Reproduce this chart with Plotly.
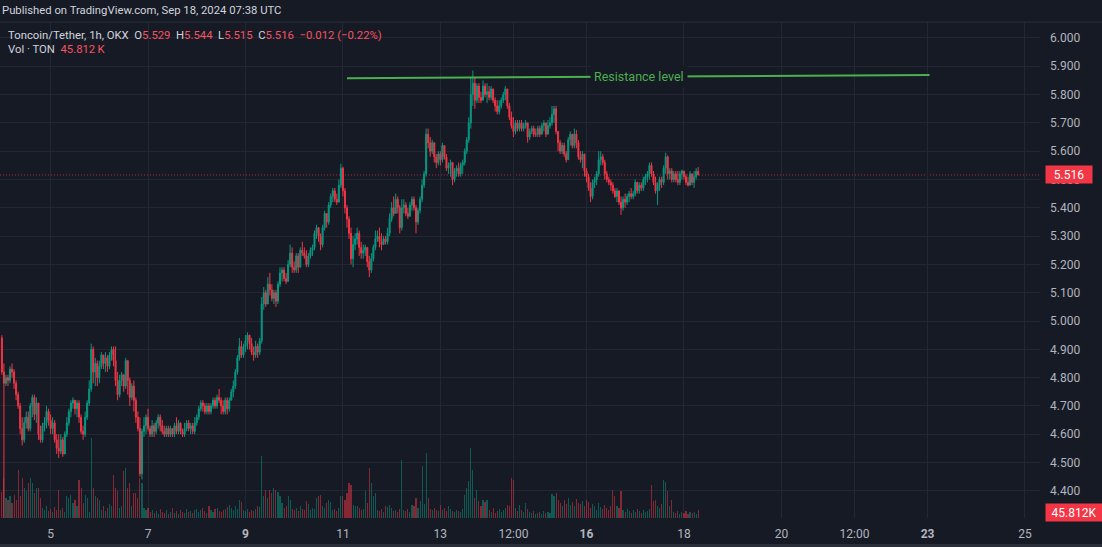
import pandas as pd
import plotly.graph_objects as go

# ---------------- data (hourly candles, Sep 4 00:00 -> Sep 18 07:00 UTC) ----------------
first_open = 4.94

close_px = (
    [4.82, 4.78, 4.80, 4.79, 4.83, 4.82, 4.78, 4.74, 4.70, 4.62, 4.58, 4.64, 4.66, 4.62, 4.70, 4.73, 4.67, 4.71, 4.60, 4.58, 4.63, 4.64, 4.68, 4.65]
    + [4.62, 4.64, 4.58, 4.55, 4.54, 4.58, 4.53, 4.60, 4.64, 4.68, 4.71, 4.72, 4.69, 4.71, 4.66, 4.61, 4.60, 4.66, 4.71, 4.76, 4.90, 4.82, 4.85, 4.80]
    + [4.84, 4.88, 4.85, 4.87, 4.84, 4.88, 4.90, 4.86, 4.79, 4.74, 4.79, 4.81, 4.77, 4.86, 4.79, 4.73, 4.77, 4.72, 4.66, 4.62, 4.46, 4.61, 4.63, 4.66]
    + [4.62, 4.60, 4.63, 4.61, 4.64, 4.66, 4.63, 4.61, 4.60, 4.62, 4.60, 4.62, 4.60, 4.63, 4.61, 4.64, 4.61, 4.60, 4.62, 4.64, 4.62, 4.63, 4.61, 4.64]
    + [4.66, 4.69, 4.71, 4.70, 4.68, 4.70, 4.68, 4.70, 4.72, 4.70, 4.73, 4.72, 4.70, 4.68, 4.72, 4.69, 4.72, 4.75, 4.77, 4.82, 4.87, 4.91, 4.88, 4.91]
    + [4.93, 4.95, 4.92, 4.89, 4.88, 4.91, 4.89, 4.93, 5.06, 5.10, 5.06, 5.13, 5.11, 5.08, 5.10, 5.07, 5.13, 5.17, 5.18, 5.15, 5.14, 5.20, 5.24, 5.19]
    + [5.18, 5.23, 5.19, 5.25, 5.24, 5.23, 5.20, 5.23, 5.25, 5.26, 5.31, 5.33, 5.30, 5.27, 5.33, 5.38, 5.35, 5.41, 5.44, 5.46, 5.43, 5.42, 5.48, 5.54]
    + [5.46, 5.40, 5.36, 5.31, 5.22, 5.27, 5.29, 5.31, 5.26, 5.24, 5.25, 5.26, 5.21, 5.18, 5.22, 5.26, 5.29, 5.30, 5.28, 5.27, 5.29, 5.28, 5.31, 5.36]
    + [5.40, 5.38, 5.43, 5.40, 5.33, 5.40, 5.41, 5.38, 5.37, 5.41, 5.43, 5.40, 5.35, 5.39, 5.43, 5.48, 5.52, 5.66, 5.63, 5.60, 5.63, 5.58, 5.56, 5.59]
    + [5.57, 5.62, 5.58, 5.54, 5.55, 5.56, 5.50, 5.53, 5.54, 5.52, 5.55, 5.56, 5.60, 5.64, 5.70, 5.80, 5.84, 5.78, 5.83, 5.79, 5.78, 5.83, 5.80, 5.81]
    + [5.79, 5.82, 5.78, 5.76, 5.74, 5.76, 5.78, 5.80, 5.82, 5.76, 5.72, 5.69, 5.67, 5.70, 5.68, 5.70, 5.68, 5.69, 5.70, 5.65, 5.67, 5.68, 5.66, 5.66]
    + [5.68, 5.66, 5.69, 5.70, 5.66, 5.69, 5.70, 5.73, 5.75, 5.67, 5.63, 5.60, 5.62, 5.59, 5.57, 5.64, 5.66, 5.62, 5.66, 5.63, 5.58, 5.57, 5.59, 5.53]
    + [5.51, 5.47, 5.44, 5.49, 5.50, 5.52, 5.57, 5.58, 5.56, 5.52, 5.50, 5.49, 5.48, 5.46, 5.44, 5.46, 5.42, 5.40, 5.43, 5.42, 5.44, 5.45, 5.44, 5.45]
    + [5.49, 5.46, 5.48, 5.47, 5.50, 5.51, 5.52, 5.55, 5.52, 5.49, 5.46, 5.48, 5.50, 5.49, 5.54, 5.58, 5.52, 5.53, 5.50, 5.52, 5.50, 5.49, 5.52, 5.53]
    + [5.51, 5.49, 5.48, 5.52, 5.49, 5.51, 5.529, 5.516]
)

high_px = (
    [4.95, 4.85, 4.81, 4.81, 4.84, 4.85, 4.83, 4.79, 4.75, 4.71, 4.66, 4.66, 4.68, 4.68, 4.71, 4.74, 4.74, 4.73, 4.71, 4.63, 4.64, 4.66, 4.70, 4.69]
    + [4.67, 4.66, 4.65, 4.60, 4.60, 4.60, 4.59, 4.61, 4.66, 4.69, 4.72, 4.73, 4.72, 4.72, 4.72, 4.67, 4.63, 4.68, 4.72, 4.79, 4.92, 4.91, 4.87, 4.86]
    + [4.86, 4.89, 4.88, 4.89, 4.88, 4.89, 4.91, 4.91, 4.91, 4.82, 4.81, 4.82, 4.81, 4.87, 4.86, 4.80, 4.78, 4.79, 4.73, 4.68, 4.66, 4.62, 4.66, 4.67]
    + [4.69, 4.63, 4.65, 4.64, 4.65, 4.67, 4.67, 4.65, 4.63, 4.63, 4.63, 4.63, 4.62, 4.64, 4.66, 4.65, 4.64, 4.62, 4.64, 4.65, 4.65, 4.64, 4.64, 4.66]
    + [4.67, 4.70, 4.72, 4.72, 4.71, 4.71, 4.71, 4.71, 4.73, 4.73, 4.74, 4.76, 4.73, 4.72, 4.73, 4.73, 4.73, 4.76, 4.79, 4.83, 4.88, 4.94, 4.93, 4.92]
    + [4.95, 4.96, 4.95, 4.94, 4.91, 4.93, 4.92, 4.94, 5.085, 5.12, 5.11, 5.155, 5.17, 5.13, 5.11, 5.11, 5.14, 5.19, 5.19, 5.19, 5.17, 5.215, 5.27, 5.26]
    + [5.21, 5.24, 5.24, 5.26, 5.28, 5.26, 5.25, 5.24, 5.26, 5.27, 5.32, 5.34, 5.33, 5.31, 5.34, 5.39, 5.38, 5.42, 5.45, 5.47, 5.47, 5.45, 5.50, 5.556]
    + [5.545, 5.47, 5.41, 5.37, 5.33, 5.30, 5.31, 5.33, 5.32, 5.28, 5.27, 5.27, 5.26, 5.23, 5.24, 5.27, 5.32, 5.32, 5.33, 5.31, 5.30, 5.30, 5.33, 5.38]
    + [5.42, 5.44, 5.45, 5.44, 5.41, 5.43, 5.43, 5.42, 5.40, 5.42, 5.44, 5.44, 5.41, 5.40, 5.44, 5.50, 5.53, 5.68, 5.68, 5.65, 5.64, 5.63, 5.59, 5.60]
    + [5.60, 5.63, 5.62, 5.59, 5.56, 5.57, 5.56, 5.54, 5.55, 5.56, 5.56, 5.57, 5.61, 5.65, 5.72, 5.86, 5.885, 5.86, 5.84, 5.84, 5.81, 5.85, 5.84, 5.84]
    + [5.83, 5.83, 5.82, 5.79, 5.78, 5.78, 5.79, 5.81, 5.83, 5.82, 5.77, 5.74, 5.72, 5.71, 5.71, 5.71, 5.71, 5.70, 5.71, 5.70, 5.68, 5.69, 5.69, 5.68]
    + [5.69, 5.69, 5.70, 5.71, 5.70, 5.71, 5.72, 5.76, 5.76, 5.76, 5.67, 5.64, 5.63, 5.63, 5.60, 5.65, 5.67, 5.66, 5.68, 5.675, 5.64, 5.60, 5.60, 5.59]
    + [5.54, 5.52, 5.49, 5.50, 5.51, 5.53, 5.60, 5.60, 5.59, 5.57, 5.53, 5.51, 5.50, 5.49, 5.47, 5.47, 5.46, 5.44, 5.44, 5.45, 5.45, 5.46, 5.47, 5.46]
    + [5.50, 5.49, 5.49, 5.49, 5.51, 5.52, 5.53, 5.56, 5.56, 5.53, 5.51, 5.49, 5.51, 5.51, 5.55, 5.595, 5.585, 5.54, 5.54, 5.53, 5.53, 5.53, 5.53, 5.535]
    + [5.53, 5.52, 5.51, 5.53, 5.52, 5.53, 5.54, 5.544]
)

low_px = (
    [4.81, 4.20, 4.77, 4.77, 4.78, 4.80, 4.76, 4.72, 4.69, 4.60, 4.56, 4.57, 4.62, 4.61, 4.61, 4.66, 4.65, 4.64, 4.58, 4.57, 4.57, 4.61, 4.62, 4.63]
    + [4.60, 4.60, 4.57, 4.53, 4.516, 4.53, 4.52, 4.53, 4.59, 4.63, 4.66, 4.69, 4.67, 4.66, 4.64, 4.60, 4.58, 4.59, 4.65, 4.70, 4.75, 4.78, 4.77, 4.77]
    + [4.78, 4.83, 4.83, 4.82, 4.82, 4.83, 4.86, 4.84, 4.77, 4.72, 4.73, 4.77, 4.75, 4.76, 4.74, 4.70, 4.72, 4.68, 4.64, 4.61, 4.45, 4.44, 4.59, 4.60]
    + [4.61, 4.59, 4.59, 4.59, 4.60, 4.62, 4.61, 4.60, 4.59, 4.59, 4.59, 4.59, 4.59, 4.59, 4.60, 4.60, 4.60, 4.59, 4.59, 4.61, 4.61, 4.60, 4.60, 4.60]
    + [4.63, 4.65, 4.68, 4.68, 4.67, 4.67, 4.67, 4.67, 4.69, 4.69, 4.69, 4.71, 4.67, 4.67, 4.67, 4.67, 4.68, 4.72, 4.73, 4.76, 4.81, 4.86, 4.87, 4.87]
    + [4.89, 4.90, 4.90, 4.88, 4.86, 4.87, 4.87, 4.88, 4.92, 5.04, 5.05, 5.06, 5.09, 5.07, 5.06, 5.05, 5.06, 5.12, 5.14, 5.14, 5.13, 5.14, 5.19, 5.17]
    + [5.17, 5.17, 5.17, 5.19, 5.23, 5.22, 5.19, 5.19, 5.22, 5.23, 5.25, 5.29, 5.28, 5.25, 5.26, 5.32, 5.33, 5.34, 5.40, 5.42, 5.42, 5.41, 5.42, 5.47]
    + [5.44, 5.38, 5.33, 5.29, 5.20, 5.19, 5.25, 5.27, 5.23, 5.22, 5.22, 5.23, 5.19, 5.155, 5.17, 5.21, 5.25, 5.28, 5.26, 5.25, 5.27, 5.27, 5.27, 5.30]
    + [5.35, 5.37, 5.38, 5.38, 5.31, 5.32, 5.38, 5.37, 5.36, 5.37, 5.39, 5.39, 5.31, 5.34, 5.38, 5.42, 5.47, 5.51, 5.61, 5.58, 5.59, 5.56, 5.54, 5.55]
    + [5.55, 5.56, 5.57, 5.53, 5.52, 5.51, 5.48, 5.49, 5.51, 5.51, 5.51, 5.52, 5.55, 5.59, 5.63, 5.68, 5.76, 5.75, 5.77, 5.77, 5.77, 5.78, 5.79, 5.77]
    + [5.78, 5.78, 5.77, 5.74, 5.73, 5.73, 5.75, 5.77, 5.78, 5.75, 5.71, 5.68, 5.65, 5.66, 5.67, 5.67, 5.67, 5.67, 5.68, 5.63, 5.64, 5.66, 5.65, 5.65]
    + [5.65, 5.65, 5.66, 5.67, 5.65, 5.66, 5.68, 5.69, 5.70, 5.66, 5.60, 5.59, 5.59, 5.58, 5.56, 5.57, 5.62, 5.61, 5.61, 5.61, 5.57, 5.56, 5.54, 5.51]
    + [5.49, 5.46, 5.42, 5.43, 5.47, 5.48, 5.51, 5.55, 5.55, 5.50, 5.49, 5.48, 5.46, 5.45, 5.435, 5.42, 5.41, 5.375, 5.39, 5.40, 5.41, 5.42, 5.43, 5.43]
    + [5.44, 5.45, 5.45, 5.46, 5.46, 5.48, 5.49, 5.50, 5.51, 5.48, 5.45, 5.41, 5.46, 5.47, 5.48, 5.52, 5.50, 5.50, 5.49, 5.49, 5.49, 5.48, 5.48, 5.50]
    + [5.50, 5.48, 5.475, 5.48, 5.48, 5.47, 5.50, 5.515]
)

# volume in thousands of TON
volume_k = (
    [150, 228, 114, 103, 125, 86, 131, 103, 274, 125, 228, 171, 154, 200, 228, 200, 143, 171, 171, 114, 57, 46, 68, 40]
    + [51, 34, 63, 46, 160, 46, 57, 34, 125, 114, 131, 86, 103, 68, 217, 171, 86, 131, 114, 34, 456, 171, 125, 114]
    + [103, 46, 68, 40, 57, 80, 68, 245, 171, 154, 57, 68, 268, 285, 171, 200, 68, 143, 143, 114, 228, 200, 57, 46]
    + [57, 34, 46, 29, 40, 23, 51, 34, 29, 46, 23, 34, 57, 29, 40, 23, 46, 34, 29, 51, 34, 40, 29, 46]
    + [51, 34, 46, 57, 40, 29, 68, 46, 34, 51, 57, 40, 34, 46, 51, 63, 74, 57, 46, 68, 51, 103, 91, 46]
    + [40, 51, 34, 46, 40, 51, 68, 63, 353, 125, 160, 114, 160, 143, 171, 160, 148, 125, 86, 57, 68, 125, 103, 51]
    + [46, 57, 40, 68, 51, 46, 97, 80, 46, 57, 51, 114, 125, 131, 68, 57, 86, 103, 91, 46, 51, 40, 57, 125]
    + [125, 103, 143, 200, 188, 74, 68, 68, 57, 46, 51, 154, 86, 285, 200, 125, 143, 46, 40, 51, 34, 68, 63, 74]
    + [57, 40, 46, 34, 51, 331, 46, 40, 51, 34, 74, 68, 114, 57, 97, 296, 80, 371, 114, 51, 46, 57, 46, 40]
    + [74, 46, 57, 40, 68, 51, 40, 34, 46, 40, 34, 51, 131, 171, 211, 399, 274, 114, 160, 97, 68, 103, 91, 103]
    + [46, 34, 57, 29, 40, 51, 34, 46, 57, 74, 68, 228, 217, 57, 40, 74, 46, 34, 86, 51, 34, 29, 40, 23]
    + [29, 34, 23, 40, 29, 34, 29, 137, 125, 143, 103, 86, 68, 103, 80, 114, 74, 91, 68, 108, 86, 80, 97, 68]
    + [103, 91, 57, 80, 68, 46, 86, 63, 51, 74, 57, 46, 68, 160, 125, 68, 57, 154, 46, 34, 51, 40, 29, 46]
    + [34, 51, 40, 29, 46, 34, 40, 51, 188, 97, 103, 68, 57, 80, 217, 205, 154, 68, 103, 34, 29, 40, 23, 34]
    + [29, 40, 23, 34, 29, 34, 23, 45.812]
)

# time-axis labels
tick_dates = ["2024-09-05 00:00", "2024-09-07 00:00", "2024-09-09 00:00", "2024-09-11 00:00",
              "2024-09-13 00:00", "2024-09-14 12:00", "2024-09-16 00:00", "2024-09-18 00:00",
              "2024-09-20 00:00", "2024-09-21 12:00", "2024-09-23 00:00", "2024-09-25 00:00"]
tick_labels = ["5", "7", "<b>9</b>", "11", "13", "12:00", "<b>16</b>", "18", "20", "12:00", "<b>23</b>", "25"]

# drawn resistance line
res_time = ["2024-09-11 02:00", "2024-09-23 01:00"]
res_price = [5.858, 5.869]
res_label = "Resistance level"

last_price = 5.516
last_volume_label = "45.812\u2009K"

# ---------------- styling ----------------
BG = "#161a25"
GRID = "#232734"
TXT = "#b2b5be"
UP = "#089981"
DOWN = "#f23645"
GREEN = "#4caf50"
FONT = "Roboto"

times = pd.date_range("2024-09-04 00:00", periods=len(close_px), freq="h")
open_px = [first_open] + close_px[:-1]
vol_colors = ["rgba(8,153,129,0.5)" if c >= o else "rgba(242,54,69,0.5)" for o, c in zip(open_px, close_px)]

fig = go.Figure()

fig.add_trace(go.Bar(
    x=times, y=volume_k, marker=dict(color=vol_colors, line=dict(width=0)),
    width=3600000 * 0.55, yaxis="y", hoverinfo="skip", showlegend=False,
))

fig.add_trace(go.Candlestick(
    x=times, open=open_px, high=high_px, low=low_px, close=close_px,
    increasing=dict(line=dict(color=UP, width=1), fillcolor=UP),
    decreasing=dict(line=dict(color=DOWN, width=1), fillcolor=DOWN),
    whiskerwidth=0, yaxis="y2", showlegend=False, hoverinfo="skip",
))

fig.add_trace(go.Scatter(
    x=pd.to_datetime(res_time, format="%Y-%m-%d %H:%M"), y=res_price, mode="lines",
    line=dict(color=GREEN, width=2), yaxis="y2", hoverinfo="skip", showlegend=False,
))

t_start = "2024-09-03 23:04"
t_end = "2024-09-25 07:24"

PLOT_TOP = 22
PLOT_BOTTOM = 518
PH = PLOT_BOTTOM - PLOT_TOP


def py(pix):
    return (PLOT_BOTTOM - pix) / PH


fig.update_layout(
    width=1102, height=547,
    margin=dict(l=0, r=62, t=PLOT_TOP, b=547 - PLOT_BOTTOM, pad=0),
    paper_bgcolor=BG, plot_bgcolor=BG,
    font=dict(family=FONT, color=TXT, size=12),
    hovermode=False, showlegend=False, bargap=0,
    xaxis=dict(
        type="date", range=[t_start, t_end],
        tickmode="array", tickvals=tick_dates, ticktext=tick_labels,
        showgrid=True, gridcolor=GRID, gridwidth=1, zeroline=False, showline=False,
        ticks="", tickfont=dict(family=FONT, size=12, color=TXT),
        ticklabelstandoff=7,
        rangeslider=dict(visible=False), fixedrange=True,
    ),
    yaxis=dict(range=[0, 2822], visible=False, showgrid=False, fixedrange=True),
    yaxis2=dict(
        overlaying="y", side="right", range=[4.3039, 6.0565],
        tick0=4.4, dtick=0.1, tickformat=".3f",
        showgrid=True, gridcolor=GRID, gridwidth=1, zeroline=False, showline=False,
        ticks="", ticklabelstandoff=9,
        tickfont=dict(family=FONT, size=12, color=TXT), fixedrange=True,
    ),
)

shapes = [
    dict(type="line", xref="paper", yref="y2", x0=0, x1=1, y0=last_price, y1=last_price,
         line=dict(color="rgba(242,54,69,0.7)", width=1, dash="1px,2px"), layer="below"),
    dict(type="line", xref="paper", yref="paper", x0=0, x1=1102 / 1040, y0=1.0, y1=1.0,
         line=dict(color="#2a2e39", width=1)),
    dict(type="rect", xref="paper", yref="paper", x0=0, x1=1102 / 1040,
         y0=py(547), y1=py(544), fillcolor="#2a2e39", line=dict(width=0)),
]
fig.update_layout(shapes=shapes)

RED = "#f7525f"
legend1 = (
    "Toncoin/Tether, 1h, OKX&nbsp;&nbsp;O<span style='color:%s'>5.529</span>&nbsp;&nbsp;"
    "H<span style='color:%s'>5.544</span>&nbsp;&nbsp;L<span style='color:%s'>5.515</span>&nbsp;&nbsp;"
    "C<span style='color:%s'>5.516</span>&nbsp;&nbsp;<span style='color:%s'>\u22120.012 (\u22120.22%%)</span>"
) % (RED, RED, RED, RED, RED)
legend2 = "Vol \u00b7 TON&nbsp;&nbsp;<span style='color:%s'>%s</span>" % (RED, last_volume_label)

rt0 = pd.Timestamp(res_time[0])
rt1 = pd.Timestamp(res_time[1])
label_t = pd.Timestamp("2024-09-17 01:50")
frac = (label_t - rt0) / (rt1 - rt0)
label_p = res_price[0] + frac * (res_price[1] - res_price[0])

annotations = [
    dict(text="Published on TradingView.com, Sep 18, 2024 07:38 UTC", xref="paper", yref="paper",
         x=0, y=py(11), xanchor="left", yanchor="middle", showarrow=False,
         font=dict(family=FONT, size=11.3, color="#d1d4dc")),
    dict(text=legend1, xref="paper", yref="paper", x=6 / 1040, y=py(36), xanchor="left", yanchor="middle",
         showarrow=False, font=dict(family=FONT, size=11.3, color="#d1d4dc")),
    dict(text=legend2, xref="paper", yref="paper", x=6 / 1040, y=py(49), xanchor="left", yanchor="middle",
         showarrow=False, font=dict(family=FONT, size=11.3, color="#d1d4dc")),
    dict(text=res_label, xref="x", yref="y2", x=label_t.strftime("%Y-%m-%d %H:%M"), y=label_p,
         xanchor="center", yanchor="middle",
         showarrow=False, bgcolor=BG, borderpad=3, font=dict(family=FONT, size=12.5, color=GREEN)),
    dict(text="%.3f" % last_price, xref="paper", yref="y2", x=1, y=last_price, xanchor="left", yanchor="middle",
         xshift=5, showarrow=False, bgcolor=DOWN, width=42, height=13, borderpad=2, align="center",
         font=dict(family=FONT, size=12, color="#ffffff")),
    dict(text=last_volume_label.replace("\u2009", ""), xref="paper", yref="paper", x=1, y=py(512),
         xanchor="left", yanchor="middle", xshift=5, showarrow=False, bgcolor=DOWN, width=52, height=13,
         borderpad=2, align="center", font=dict(family=FONT, size=12, color="#ffffff")),
]
fig.update_layout(annotations=annotations)

fig.write_html("out.html", config={"displayModeBar": False, "staticPlot": True},
               post_script="document.body.style.margin='0';")
